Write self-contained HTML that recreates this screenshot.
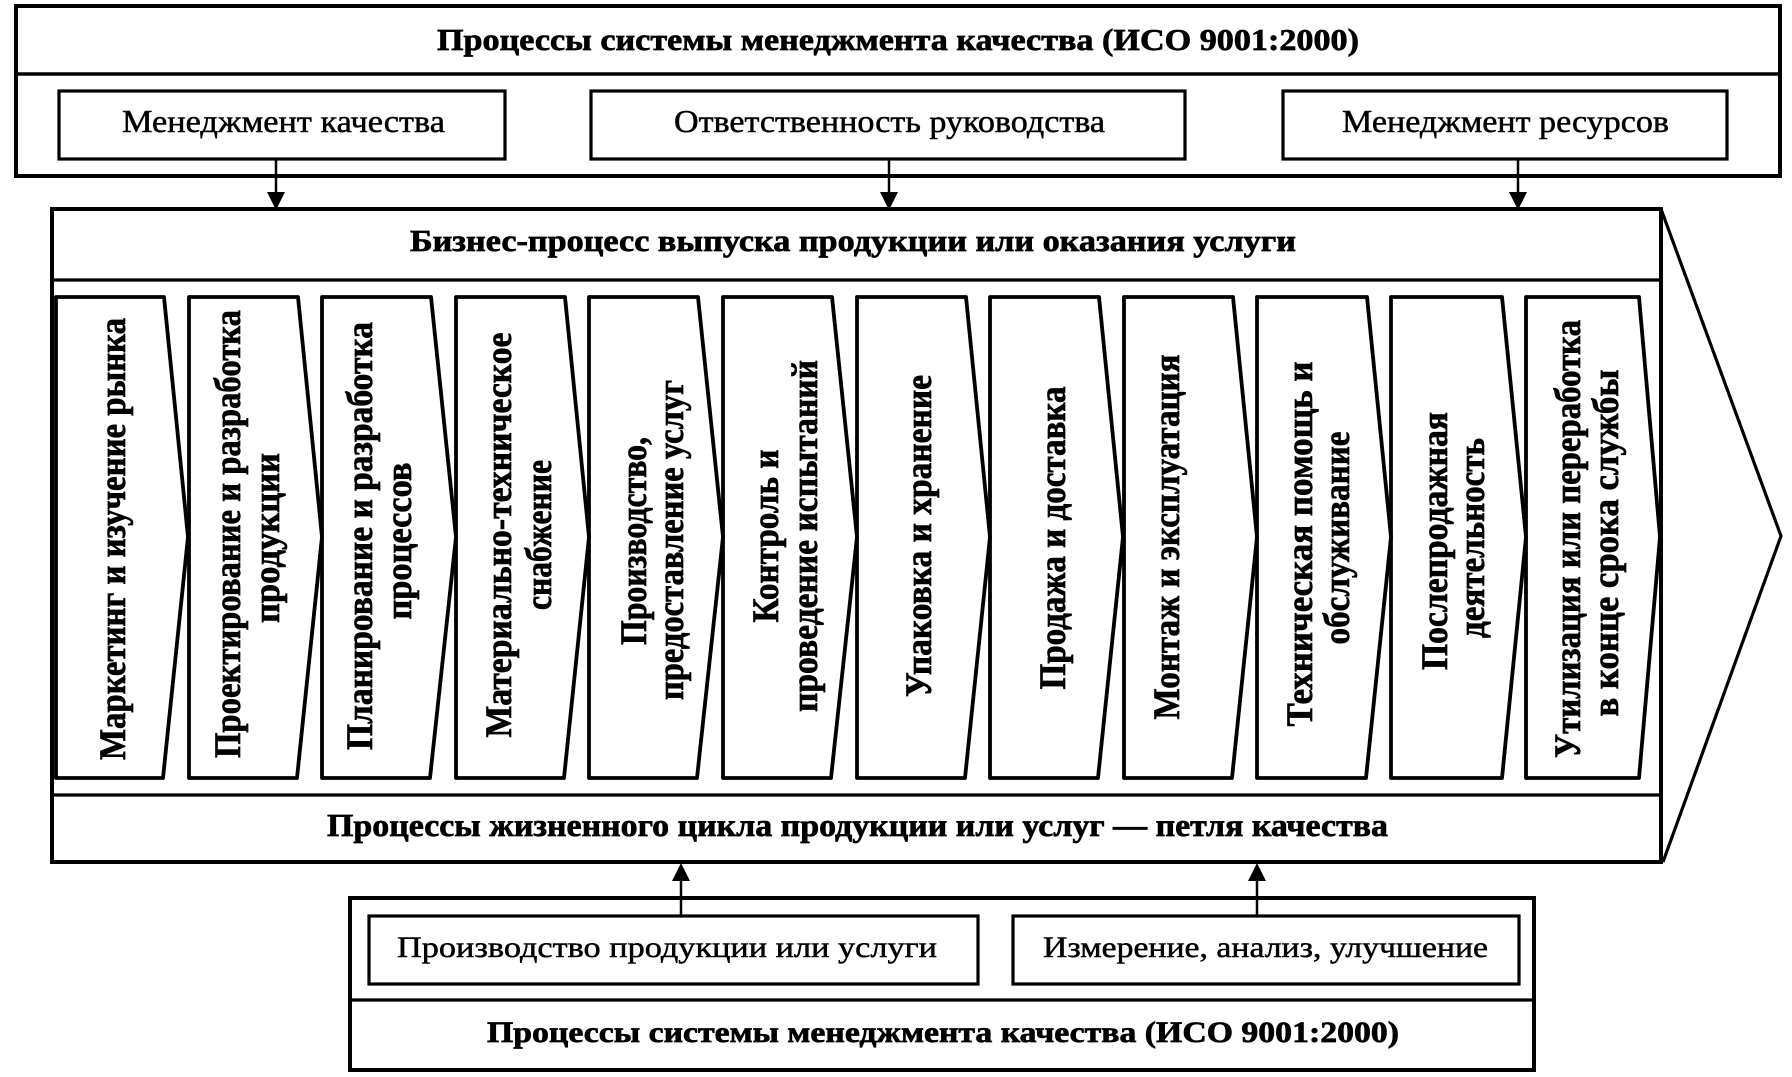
<!DOCTYPE html>
<html>
<head>
<meta charset="utf-8">
<style>
  html,body{margin:0;padding:0;background:#fff;}
  svg{display:block;}
  .t{font-family:"Liberation Serif","DejaVu Serif",serif;fill:#000;stroke:#000;stroke-width:0.5;}
  .b{font-weight:bold;stroke-width:0.7;}
</style>
</head>
<body>
<svg width="1792" height="1077" viewBox="0 0 1792 1077" xmlns="http://www.w3.org/2000/svg">
  <rect x="0" y="0" width="1792" height="1077" fill="#fff"/>

  <!-- Top box -->
  <rect x="16" y="6" width="1764" height="170" fill="none" stroke="#000" stroke-width="4"/>
  <line x1="16" y1="74" x2="1780" y2="74" stroke="#000" stroke-width="3.5"/>
  <text class="t b" x="437" y="50" font-size="31" textLength="922" lengthAdjust="spacingAndGlyphs">Процессы системы менеджмента качества (ИСО 9001:2000)</text>

  <rect x="59" y="91" width="446" height="68" fill="none" stroke="#000" stroke-width="3.2"/>
  <text class="t" x="122" y="132" font-size="32" textLength="323" lengthAdjust="spacingAndGlyphs">Менеджмент качества</text>

  <rect x="591" y="91" width="594" height="68" fill="none" stroke="#000" stroke-width="3.2"/>
  <text class="t" x="674" y="132" font-size="32" textLength="431" lengthAdjust="spacingAndGlyphs">Ответственность руководства</text>

  <rect x="1283" y="91" width="444" height="68" fill="none" stroke="#000" stroke-width="3.2"/>
  <text class="t" x="1342" y="132" font-size="32" textLength="327" lengthAdjust="spacingAndGlyphs">Менеджмент ресурсов</text>

  <!-- Down arrows -->
  <line x1="276" y1="159" x2="276" y2="195" stroke="#000" stroke-width="2.5"/>
  <polygon points="267,192 285,192 276,210" fill="#000"/>
  <line x1="889" y1="159" x2="889" y2="195" stroke="#000" stroke-width="2.5"/>
  <polygon points="880,192 898,192 889,210" fill="#000"/>
  <line x1="1518" y1="159" x2="1518" y2="195" stroke="#000" stroke-width="2.5"/>
  <polygon points="1509,192 1527,192 1518,210" fill="#000"/>

  <!-- Business process box -->
  <rect x="52" y="209" width="1609" height="653" fill="none" stroke="#000" stroke-width="4"/>
  <polyline points="1661,209 1781,536 1663,862" fill="none" stroke="#000" stroke-width="3.2"/>
  <line x1="52" y1="280" x2="1661" y2="280" stroke="#000" stroke-width="3.2"/>
  <line x1="52" y1="795" x2="1661" y2="795" stroke="#000" stroke-width="3.2"/>
  <text class="t b" x="410" y="251" font-size="31" textLength="886" lengthAdjust="spacingAndGlyphs">Бизнес-процесс выпуска продукции или оказания услуги</text>
  <text class="t b" x="327" y="836" font-size="32" textLength="1061" lengthAdjust="spacingAndGlyphs">Процессы жизненного цикла продукции или услуг — петля качества</text>

  <!-- Chevrons -->
  <g fill="none" stroke="#000" stroke-width="3.8" stroke-linejoin="round">
    <path d="M56,297 H164 L188,537 L163,778 H56 Z"/>
    <path d="M189,297 H298 L322,537 L297,778 H189 Z"/>
    <path d="M322,297 H431 L456,537 L430,778 H322 Z"/>
    <path d="M456,297 H565 L589,537 L564,778 H456 Z"/>
    <path d="M589,297 H698 L723,537 L697,778 H589 Z"/>
    <path d="M723,297 H832 L857,537 L831,778 H723 Z"/>
    <path d="M857,297 H966 L990,537 L965,778 H857 Z"/>
    <path d="M990,297 H1099 L1123,537 L1098,778 H990 Z"/>
    <path d="M1124,297 H1233 L1257,537 L1232,778 H1124 Z"/>
    <path d="M1257,297 H1367 L1391,537 L1366,778 H1257 Z"/>
    <path d="M1391,297 H1502 L1526,537 L1502,778 H1391 Z"/>
    <path d="M1526,297 H1639 L1660,537 L1639,778 H1526 Z"/>
  </g>

  <!-- Chevron texts (rotated) -->
  <g class="t b" font-size="37" text-anchor="middle">
    <text transform="translate(125,539) rotate(-90)" textLength="442" lengthAdjust="spacingAndGlyphs">Маркетинг и изучение рынка</text>

    <text transform="translate(240,534) rotate(-90)" textLength="448" lengthAdjust="spacingAndGlyphs">Проектирование и разработка</text>
    <text transform="translate(279,538) rotate(-90)" textLength="170" lengthAdjust="spacingAndGlyphs">продукции</text>

    <text transform="translate(372,536) rotate(-90)" textLength="428" lengthAdjust="spacingAndGlyphs">Планирование и разработка</text>
    <text transform="translate(411,541) rotate(-90)" textLength="157" lengthAdjust="spacingAndGlyphs">процессов</text>

    <text transform="translate(511,535) rotate(-90)" textLength="405" lengthAdjust="spacingAndGlyphs">Материально-техническое</text>
    <text transform="translate(551,535) rotate(-90)" textLength="150" lengthAdjust="spacingAndGlyphs">снабжение</text>

    <text transform="translate(646,541) rotate(-90)" textLength="208" lengthAdjust="spacingAndGlyphs">Производство,</text>
    <text transform="translate(683,540) rotate(-90)" textLength="320" lengthAdjust="spacingAndGlyphs">предоставление услуг</text>

    <text transform="translate(778,536) rotate(-90)" textLength="173" lengthAdjust="spacingAndGlyphs">Контроль и</text>
    <text transform="translate(817,536) rotate(-90)" textLength="352" lengthAdjust="spacingAndGlyphs">проведение испытаний</text>

    <text transform="translate(931,536) rotate(-90)" textLength="322" lengthAdjust="spacingAndGlyphs">Упаковка и хранение</text>

    <text transform="translate(1065,538) rotate(-90)" textLength="303" lengthAdjust="spacingAndGlyphs">Продажа и доставка</text>

    <text transform="translate(1179,537) rotate(-90)" textLength="365" lengthAdjust="spacingAndGlyphs">Монтаж и эксплуатация</text>

    <text transform="translate(1312,544) rotate(-90)" textLength="365" lengthAdjust="spacingAndGlyphs">Техническая помощь и</text>
    <text transform="translate(1349,538) rotate(-90)" textLength="213" lengthAdjust="spacingAndGlyphs">обслуживание</text>

    <text transform="translate(1447,541) rotate(-90)" textLength="258" lengthAdjust="spacingAndGlyphs">Послепродажная</text>
    <text transform="translate(1484,538) rotate(-90)" textLength="200" lengthAdjust="spacingAndGlyphs">деятельность</text>

    <text transform="translate(1580,539) rotate(-90)" textLength="438" lengthAdjust="spacingAndGlyphs">Утилизация или переработка</text>
    <text transform="translate(1618,543) rotate(-90)" textLength="347" lengthAdjust="spacingAndGlyphs">в конце срока службы</text>
  </g>

  <!-- Up arrows -->
  <line x1="681" y1="916" x2="681" y2="878" stroke="#000" stroke-width="2.5"/>
  <polygon points="672,881 690,881 681,863" fill="#000"/>
  <line x1="1257" y1="916" x2="1257" y2="878" stroke="#000" stroke-width="2.5"/>
  <polygon points="1248,881 1266,881 1257,863" fill="#000"/>

  <!-- Bottom box -->
  <rect x="350" y="898" width="1184" height="172" fill="none" stroke="#000" stroke-width="4"/>
  <line x1="350" y1="1000" x2="1534" y2="1000" stroke="#000" stroke-width="3.2"/>

  <rect x="369" y="916" width="609" height="68" fill="none" stroke="#000" stroke-width="3.2"/>
  <text class="t" x="397" y="957" font-size="30" textLength="540" lengthAdjust="spacingAndGlyphs">Производство продукции или услуги</text>

  <rect x="1013" y="916" width="506" height="68" fill="none" stroke="#000" stroke-width="3.2"/>
  <text class="t" x="1043" y="957" font-size="30" textLength="445" lengthAdjust="spacingAndGlyphs">Измерение, анализ, улучшение</text>

  <text class="t b" x="487" y="1042" font-size="30" textLength="912" lengthAdjust="spacingAndGlyphs">Процессы системы менеджмента качества (ИСО 9001:2000)</text>
</svg>
</body>
</html>
